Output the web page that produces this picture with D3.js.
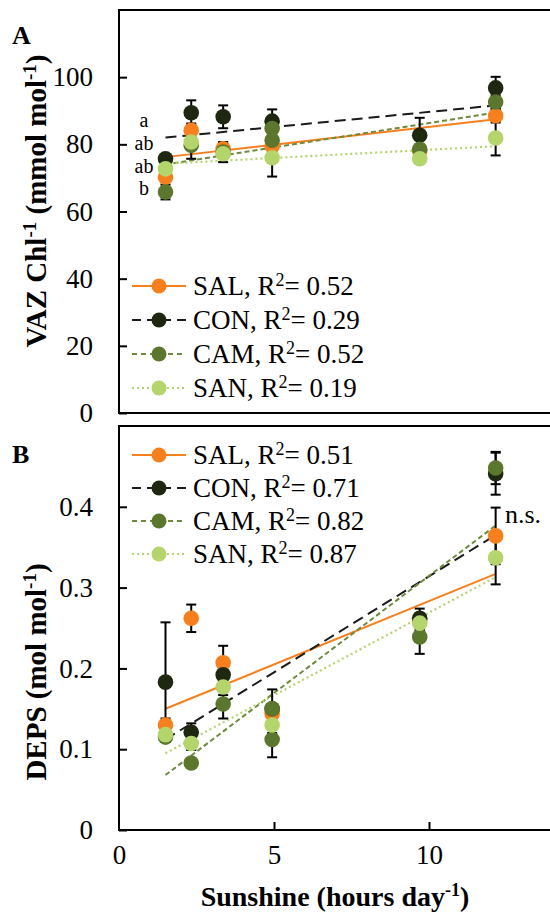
<!DOCTYPE html>
<html><head><meta charset="utf-8">
<script src="https://cdn.jsdelivr.net/npm/d3@7"></script>
<style>body{margin:0;background:#fff}svg{display:block}</style>
</head><body>
<script>
// ---------- data ----------
const sunshine = [1.5, 2.33, 3.36, 4.94, 9.7, 12.15];
const seriesNames = ["SAL", "CON", "CAM", "SAN"];
const seriesColors = ["#F7801E", "#1E2811", "#5B772E", "#B4D46C"];
const trendColors = ["#F7801E", "#1A1A1A", "#6E8B3D", "#B4D46C"];
const trendDash = [null, "11,6", "5,3", "2,3"];

// Panel A: VAZ Chl-1 (mmol mol-1)
const vazSAL = [70.2, 84.2, 78.7, 79.5, 78.0, 88.5];
const vazCON = [75.7, 89.4, 88.2, 86.9, 82.7, 96.8];
const vazCAM = [65.8, 79.7, 77.7, 81.2, 78.5, 92.6];
const vazSAN = [72.7, 80.7, 77.2, 76.0, 75.7, 81.9];
const vazErrSAL = [1.2, 2.0, 1.5, 1.5, 1.0, 2.0];
const vazErrCON = [1.2, 3.7, 3.4, 3.5, 5.2, 3.3];
const vazErrCAM = [2.2, 4.0, 3.0, 4.0, 1.5, 2.0];
const vazErrSAN = [1.0, 1.5, 1.0, 5.6, 1.0, 5.2];
const vazCAMextraX = [4.94];
const vazCAMextra = [84.7];
const vazR2 = ["0.52", "0.29", "0.52", "0.19"];
const vazSlope = [1.06, 0.90, 1.455, 0.488];
const vazIntercept = [74.6, 80.65, 71.8, 73.5];
const vazLetters = ["a", "ab", "ab", "b"];
const vazLetterValues = [85.3, 78.4, 71.6, 64.8];

// Panel B: DEPS (mol mol-1)
const depsSAL = [0.130, 0.262, 0.207, 0.144, 0.258, 0.364];
const depsCON = [0.183, 0.121, 0.192, 0.150, 0.262, 0.441];
const depsCAM = [0.115, 0.083, 0.156, 0.112, 0.239, 0.448];
const depsSAN = [0.118, 0.107, 0.177, 0.130, 0.256, 0.337];
const depsErrSAL = [0.008, 0.017, 0.021, 0.010, 0.010, 0.035];
const depsErrCON = [0.074, 0.011, 0.010, 0.024, 0.012, 0.026];
const depsErrCAM = [0.006, 0.006, 0.018, 0.022, 0.021, 0.020];
const depsErrSAN = [0.005, 0.008, 0.010, 0.010, 0.010, 0.033];
const depsCAMextraX = [4.94];
const depsCAMextra = [0.150];
const depsR2 = ["0.51", "0.71", "0.82", "0.87"];
const depsSlope = [0.01568, 0.02376, 0.0290, 0.02047];
const depsIntercept = [0.1265, 0.0764, 0.0245, 0.0643];

const xTicks = [0, 5, 10];
const vazTicks = [0, 20, 40, 60, 80, 100];
const depsTicks = [0, 0.1, 0.2, 0.3, 0.4];
const depsTickLabels = ["0", "0.1", "0.2", "0.3", "0.4"];
const trendRange = [1.5, 12.15];

// ---------- drawing ----------
const W = 550, H = 915;
const FONT = "'Liberation Serif','Times New Roman',serif";
const svg = d3.select("body").append("svg").attr("width", W).attr("height", H)
  .style("font-family", FONT);

const x = d3.scaleLinear().domain([0, 14]).range([119, 553]);
const yA = d3.scaleLinear().domain([0, 120]).range([413, 10]);
const yB = d3.scaleLinear().domain([0, 0.5]).range([830, 426]);

function panel(cfg) {
  const g = svg.append("g");
  const y = cfg.y;
  g.append("rect").attr("x", x(0)).attr("y", y.range()[1])
    .attr("width", x(14) - x(0)).attr("height", y.range()[0] - y.range()[1])
    .attr("fill", "none").attr("stroke", "#000").attr("stroke-width", 2);
  const ya = g.append("g").attr("transform", `translate(${x(0)},0)`)
    .call(d3.axisLeft(y).tickValues(cfg.yTicks).tickSizeInner(-8).tickSizeOuter(0)
      .tickPadding(26).tickFormat((d, i) => cfg.yLabels[i]));
  ya.select(".domain").remove();
  ya.selectAll(".tick line").attr("stroke", "#000").attr("stroke-width", 2);
  ya.selectAll(".tick text").style("font-family", FONT).style("font-size", "27px").attr("fill", "#000");
  if (cfg.xAxis) {
    const xa = g.append("g").attr("transform", `translate(0,${y.range()[0]})`)
      .call(d3.axisBottom(x).tickValues(xTicks).tickSizeInner(-8).tickSizeOuter(0).tickPadding(15));
    xa.select(".domain").remove();
    xa.selectAll(".tick line").attr("stroke", "#000").attr("stroke-width", 2)
      .filter(d => d === 0).remove();
    xa.selectAll(".tick text").style("font-family", FONT).style("font-size", "27px").attr("fill", "#000");
  }
  const line = d3.line().x(d => x(d[0])).y(d => y(d[1]));
  seriesNames.forEach((s, i) => {
    const pts = trendRange.map(t => [t, cfg.intercept[i] + cfg.slope[i] * t]);
    g.append("path").attr("d", line(pts)).attr("fill", "none")
      .attr("stroke", trendColors[i]).attr("stroke-width", i === 3 ? 2.2 : 2)
      .attr("stroke-dasharray", trendDash[i]);
  });
  const eb = g.append("g").attr("stroke", "#000").attr("stroke-width", 2);
  cfg.values.forEach((vals, i) => {
    vals.forEach((v, j) => {
      const e = cfg.errors[i][j], cx = x(sunshine[j]);
      eb.append("line").attr("x1", cx).attr("x2", cx).attr("y1", y(v - e)).attr("y2", y(v + e));
      [v - e, v + e].forEach(w => eb.append("line").attr("x1", cx - 5).attr("x2", cx + 5)
        .attr("y1", y(w)).attr("y2", y(w)));
    });
  });
  cfg.values.forEach((vals, i) => {
    vals.forEach((v, j) => {
      g.append("circle").attr("cx", x(sunshine[j])).attr("cy", y(v)).attr("r", 7.8)
        .attr("fill", seriesColors[i]);
    });
    if (i === 2) {
      cfg.extraX.forEach((ex, k) => g.append("circle").attr("cx", x(ex)).attr("cy", y(cfg.extra[k]))
        .attr("r", 7.8).attr("fill", seriesColors[2]));
    }
  });
  const lg = g.append("g");
  seriesNames.forEach((s, i) => {
    const ly = cfg.legendY[i];
    lg.append("line").attr("x1", 132).attr("x2", 186).attr("y1", ly).attr("y2", ly)
      .attr("stroke", trendColors[i]).attr("stroke-width", 2).attr("stroke-dasharray", cfg.legendDash[i]);
    lg.append("circle").attr("cx", 159).attr("cy", ly).attr("r", 7.5).attr("fill", seriesColors[i]);
    const t = lg.append("text").attr("x", 193).attr("y", ly + 9).style("font-size", "27px").attr("fill", "#000");
    t.append("tspan").text(`${s}, R`);
    t.append("tspan").attr("dy", -9).style("font-size", "18px").text("2");
    t.append("tspan").attr("dy", 9).text(`= ${cfg.r2[i]}`);
  });
  return g;
}

const legendDash = [null, "9,6", "5,4", "2,3"];

panel({ y: yA, yTicks: vazTicks, yLabels: vazTicks.map(String), xAxis: false,
  values: [vazSAL, vazCON, vazCAM, vazSAN], errors: [vazErrSAL, vazErrCON, vazErrCAM, vazErrSAN],
  extraX: vazCAMextraX, extra: vazCAMextra, slope: vazSlope, intercept: vazIntercept,
  r2: vazR2, legendY: [286, 320, 354, 388], legendDash });

panel({ y: yB, yTicks: depsTicks, yLabels: depsTickLabels, xAxis: true,
  values: [depsSAL, depsCON, depsCAM, depsSAN], errors: [depsErrSAL, depsErrCON, depsErrCAM, depsErrSAN],
  extraX: depsCAMextraX, extra: depsCAMextra, slope: depsSlope, intercept: depsIntercept,
  r2: depsR2, legendY: [455, 488, 521, 554], legendDash });

// significance letters (panel A)
vazLetters.forEach((l, i) => {
  svg.append("text").attr("x", 144).attr("y", yA(vazLetterValues[i])).attr("text-anchor", "middle")
    .style("font-size", "20px").text(l);
});
// n.s. (panel B)
svg.append("text").attr("x", 505).attr("y", yB(0.38)).style("font-size", "26px").text("n.s.");

// panel labels
svg.append("text").attr("x", 12).attr("y", 44).style("font-size", "26px").style("font-weight", "bold").text("A");
svg.append("text").attr("x", 12).attr("y", 463).style("font-size", "26px").style("font-weight", "bold").text("B");

// axis titles
function yTitle(cy, parts) {
  const t = svg.append("text").attr("transform", `translate(46,${cy}) rotate(-90)`)
    .attr("text-anchor", "middle").style("font-size", "29px").style("font-weight", "bold");
  parts.forEach(p => {
    if (p.sup) {
      t.append("tspan").attr("dy", -10).style("font-size", "19px").text(p.t);
      t.append("tspan").attr("dy", 10).text(p.after || "");
    } else t.append("tspan").text(p.t);
  });
}
yTitle(201, [{ t: "VAZ Chl" }, { t: "-1", sup: true, after: " (mmol mol" }, { t: "-1", sup: true, after: ")" }]);
yTitle(672, [{ t: "DEPS (mol mol" }, { t: "-1", sup: true, after: ")" }]);

const xt = svg.append("text").attr("x", 335).attr("y", 906).attr("text-anchor", "middle")
  .style("font-size", "28px").style("font-weight", "bold");
xt.append("tspan").text("Sunshine (hours day");
xt.append("tspan").attr("dy", -10).style("font-size", "18px").text("-1");
xt.append("tspan").attr("dy", 10).text(")");
</script>
</body></html>
